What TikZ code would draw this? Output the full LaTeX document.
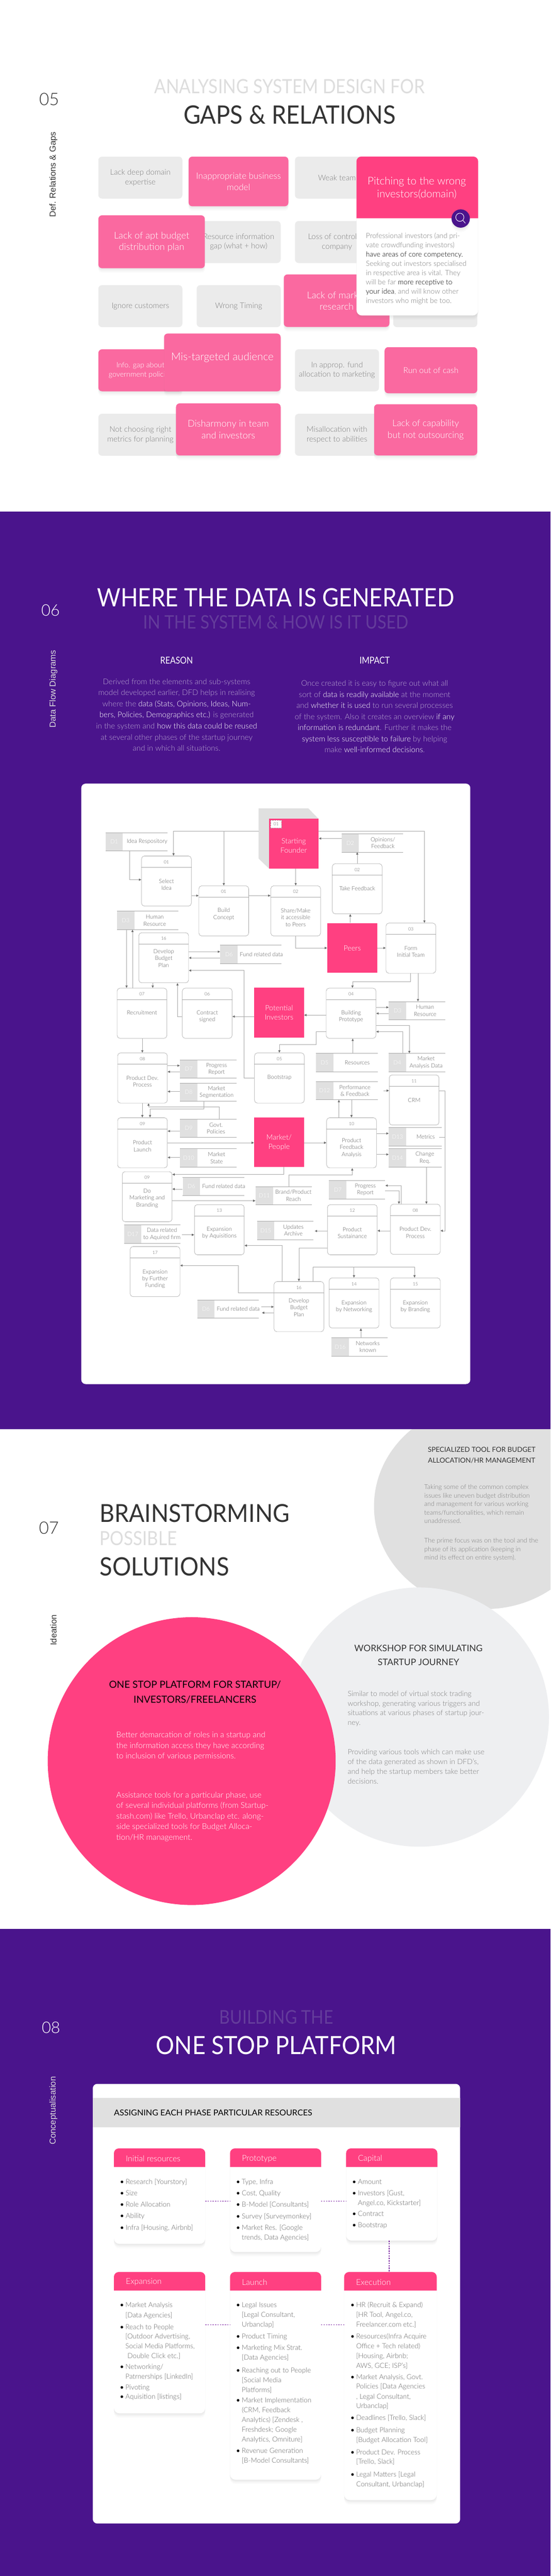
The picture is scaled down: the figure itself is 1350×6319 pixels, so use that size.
\documentclass[tikz,border=0pt]{standalone}
\usepackage{fontspec}
\usepackage{xcolor}
\usepackage{graphicx}
\usetikzlibrary{arrows.meta,calc,shadows}
\setmainfont{Lato}[UprightFont={* Light}]
\newfontfamily\regfont{Lato}
\newfontfamily\sidefont{Liberation Sans}

\definecolor{purpleband}{HTML}{4A148C}
\definecolor{hotpink}{HTML}{FF4081}
\definecolor{softpink}{HTML}{FA69A0}
\definecolor{tilegray}{HTML}{EBEBEB}
\definecolor{tiletext}{HTML}{7E7E7E}
\definecolor{palehead}{HTML}{DDDDDD}
\definecolor{darkhead}{HTML}{333333}
\definecolor{lilachead}{HTML}{643C9B}
\definecolor{lilactext}{HTML}{B9A6D2}
\definecolor{shadegray}{HTML}{E0E0E0}
\definecolor{lightcircle}{HTML}{EEEFF1}
\definecolor{flowgray}{HTML}{A8A8A8}
\definecolor{tipgray}{HTML}{666666}
\definecolor{dfdtext}{HTML}{5E5E5E}
\definecolor{dashpurple}{HTML}{7B1FA2}

\newcommand{\fittext}[3]{\resizebox{#1pt}{#2pt}{#3}}
\newcommand{\bu}{\llap{\textcolor{black}{\regfont\textbullet}\hspace{4pt}}}
\newcommand{\cardlist}[3]{%
	\foreach[count=\n] \yy/\lab in {#3}{
		\node[listline] (#1\n) at (#2,\yy) {\lab};
	}
}

\tikzset{
	softshadow/.style={drop shadow={shadow xshift=0pt,shadow yshift=-11pt,opacity=.03},drop shadow={shadow xshift=0pt,shadow yshift=-8pt,opacity=.04},drop shadow={shadow xshift=0pt,shadow yshift=-5pt,opacity=.05},drop shadow={shadow xshift=0pt,shadow yshift=-2pt,opacity=.05}},
	tile/.style={rectangle,rounded corners=9pt,anchor=north west,inner sep=0pt,align=center},
	secnum/.style={inner sep=0pt,font=\fontsize{42}{42}\selectfont},
	sidelab/.style={inner sep=0pt,rotate=90,font=\sidefont\fontsize{21}{21}\selectfont},
	head/.style={inner sep=0pt},
	procbox/.style={draw=flowgray,line width=.8pt,rectangle,rounded corners=7pt,fill=white,anchor=north west,inner sep=0pt,minimum width=122pt,minimum height=123pt},
	proclab/.style={inner sep=0pt,align=center,text=dfdtext,font=\fontsize{14}{16.8}\selectfont},
	numlab/.style={inner sep=0pt,text=dfdtext,font=\fontsize{11}{11}\selectfont},
	pinkbox/.style={rectangle,fill=hotpink,anchor=north west,inner sep=0pt,minimum width=122pt,text=white,align=center,font=\fontsize{18}{23}\selectfont},
	storebox/.style={rectangle,anchor=north west,inner sep=0pt,minimum height=44.4pt},
	storetab/.style={rectangle,fill=shadegray,anchor=north west,inner sep=0pt,minimum width=42.4pt,minimum height=44.4pt,text=white,font=\fontsize{14}{14}\selectfont},
	storeline/.style={draw=flowgray,line width=.8pt},
	flow/.style={draw=flowgray,line width=.8pt,-{Latex[length=6pt,width=6pt,color=tipgray]}},
	flowplain/.style={draw=flowgray,line width=.8pt},
	bodyleft/.style={inner sep=0pt,anchor=west,align=left},
	cardbox/.style={rectangle,rounded corners=13pt,fill=white,anchor=north west,inner sep=0pt,softshadow},
	cardtitle/.style={inner sep=0pt,anchor=west,text=white,font=\fontsize{20}{20}\selectfont},
	listline/.style={inner sep=0pt,anchor=west,text=tipgray,text height=12pt,text depth=3pt,font=\fontsize{17}{17}\selectfont},
	linkdash/.style={draw=dashpurple,line width=1.5pt,dashed}
}

\begin{document}
\begin{tikzpicture}[x=1pt,y=-1pt]
	\path[use as bounding box] (0,0) rectangle (1350,6319);
	\clip (0,0) rectangle (1350,6319);
	\fill[white] (0,0) rectangle (1350,6319);

	% ---- 05 gaps and relations
	\node[secnum,text=darkhead] (numfive) at (120.5,243) {05};
	\node[sidelab,text=darkhead] (sidefive) at (131,428) {Def. Relations \& Gaps};
	\node[head,text=palehead] (headfivea) at (710,212.5) {\fittext{663}{35}{\regfont ANALYSING SYSTEM DESIGN FOR}};
	\node[head,text=darkhead] (headfiveb) at (710,281.5) {\fittext{520}{45}{\regfont GAPS \& RELATIONS}};

	\foreach \nm/\x/\y/\lab in {
		tdomain/241/384/{Lack deep domain\\expertise},
		tweak/723/384/{Weak team},
		tresinfo/482/542/{Resource information\\gap (what + how)},
		tcontrol/723/542/{Loss of control of\\company},
		tignore/241/699.3/{Ignore customers},
		ttiming/482/699.3/{Wrong Timing},
		tfourth/964/699.3/{},
		tapprop/723/856.7/{In approp. fund\\allocation to marketing},
		tmetrics/241/1014.8/{Not choosing right\\metrics for planning},
		tmisalloc/723/1014.8/{Misallocation with\\respect to abilities}}{
		\node[tile,fill=tilegray,text=tiletext,minimum width=206pt,minimum height=103pt,font=\fontsize{19}{23}\selectfont] (\nm) at (\x,\y) {\lab};
	}
	\foreach \nm/\x/\y/\w/\h/\fs/\ls/\lab in {
		tbizmodel/462.3/384/244.6/121.8/21.5/28/{Inappropriate business\\model},
		tbudget/241/528/261/129.8/23/28/{Lack of apt budget\\distribution plan},
		tmarket/695.7/673/259/128.8/23/28/{Lack of market\\research},
		tinfogap/241/856.7/206/103/18/23/{Info. gap about\\government policies},
		tmisaud/402/818/286/141.8/26/28/{Mis-targeted audience\\\phantom{x}},
		tcash/942.8/851.3/227.2/113.2/20/28/{Run out of cash},
		tdisharm/431.3/989.3/256.7/127.7/23/28/{Disharmony in team\\and investors},
		tcapab/917/991.3/253/125.7/22/28/{Lack of capability\\but not outsourcing}}{
		\node[tile,fill=softpink,text=white,softshadow,minimum width=\w pt,minimum height=\h pt,font=\fontsize{\fs}{\ls}\selectfont] (\nm) at (\x,\y) {\lab};
	}

	% pitching card on top of the tiles
	\node[cardbox,minimum width=298pt,minimum height=389.7pt] (pitch) at (874,384) {};
	\fill[hotpink] (pitch.west |- 0,535.3) [rounded corners=12pt] -- (pitch.north west) -- (pitch.north east) [sharp corners] -- (pitch.east |- 0,535.3) -- cycle;
	\node[inner sep=0pt,align=center,text=white,font=\fontsize{26}{31}\selectfont] (pitchtitle) at (1022,461) {Pitching to the wrong\\investors(domain)};
	\node[bodyleft,text=tiletext,font=\fontsize{17.5}{22.8}\selectfont] (pitchbody) at (897,659) {Professional investors (and pri-\\vate crowdfunding investors)\\\textcolor{black}{have areas of core competency.}\\Seeking out investors specialised\\in respective area is vital. They\\will be far \textcolor{black}{more receptive to}\\\textcolor{black}{your idea}, and will know other\\investors who might be too.};
	\node[circle,fill=purpleband,minimum size=45pt,inner sep=0pt,softshadow] (magnify) at (1129.6,536) {};
	\node[circle,draw=white,line width=1.2pt,minimum size=20pt,inner sep=0pt] (lens) at (1127.5,533) {};
	\draw[white,line width=1.2pt] (lens.south east) -- ++(6,7);

	% ---- shapes of 07 come before the purple band that cuts them
	\fill[shadegray] (1190,3695) ellipse [x radius=273pt,y radius=252pt];

	% ---- 06 data flow
	\fill[purpleband] (0,1255) rectangle (1350,3506);
	\node[secnum,text=white,font=\fontsize{39}{39}\selectfont] (numsix) at (124,1497.5) {06};
	\node[sidelab,text=palehead] (sidesix) at (131,1690) {Data Flow Diagrams};
	\node[head,text=white] (headsixa) at (676,1465.5) {\fittext{875.6}{45}{\regfont WHERE THE DATA IS GENERATED}};
	\node[head,text=lilachead] (headsixb) at (676,1526.5) {\fittext{650}{33}{\regfont IN THE SYSTEM \& HOW IS IT USED}};
	\node[head,text=white] (reasonhead) at (433,1620) {\fittext{80}{17}{\regfont REASON}};
	\node[head,text=white] (impacthead) at (918.6,1620) {\fittext{74}{17}{\regfont IMPACT}};
	\node[inner sep=0pt,align=center,text=lilactext,font=\fontsize{19}{27.2}\selectfont] (reasonbody) at (433,1753.6) {Derived from the elements and sub-systems\\model developed earlier, DFD helps in realising\\where the \textcolor{white}{data (Stats, Opinions, Ideas, Num-}\\\textcolor{white}{bers, Policies, Demographics etc.)} is generated\\in the system and \textcolor{white}{how this data could be reused}\\at several other phases of the startup journey\\and in which all situations.};
	\node[inner sep=0pt,align=center,text=lilactext,font=\fontsize{19}{27.2}\selectfont] (impactbody) at (918.6,1757.6) {Once created it is easy to figure out what all\\sort of \textcolor{white}{data is readily available} at the moment\\and \textcolor{white}{whether it is used} to run several processes\\of the system. Also it creates an overview \textcolor{white}{if any}\\\textcolor{white}{information is redundant}. Further it makes the\\\textcolor{white}{system less susceptible to failure} by helping\\make \textcolor{white}{well-informed decisions}.};

	\node[rectangle,fill=white,rounded corners=11pt,anchor=north west,inner sep=0pt,minimum width=954pt,minimum height=1473pt] (dfdsheet) at (199,1922) {};

	% starting founder back face
	\fill[shadegray] (634,1983) -- (756,1983) -- (780.6,2008) -- (780.6,2130) -- (659,2130) -- (634,2106) -- cycle;

	\foreach \nm/\x/\y/\h/\lab in {
		founder/659/2008/122/{\\Starting\\Founder},
		peers/802.4/2264/122.4/{Peers},
		investors/623/2422.5/122.5/{Potential\\Investors},
		people/623/2741.4/121.1/{{Market/}\\People}}{
		\node[pinkbox,minimum height=\h pt] (\nm) at (\x,\y) {\lab};
	}
	\node[rectangle,draw=flowgray,dashed,fill=white,inner sep=0pt,minimum width=26.7pt,minimum height=19.4pt,text=dfdtext,font=\fontsize{11}{11}\selectfont] (foundernum) at (677,2021.7) {01};

	% processes: name / left / top / number / label height / label
	\foreach \nm/\x/\y/\num/\ly/\lab in {
		selidea/346.7/2099.3/01/71/{Select\\Idea},
		bldconcept/487.3/2172.5/01/70/{Build\\Concept},
		shareit/663.6/2172.5/02/78/{{Share/Make}\\it accessible\\to Peers},
		takefb/814.5/2118.2/02/61/{Take Feedback},
		forminit/946/2264/03/70/{Form\\Initial Team},
		devbudget/340/2287.5/16/63/{Develop\\Budget\\Plan},
		recruit/286.7/2423.6/07/61/{Recruitment},
		contract/446.7/2423.6/06/70/{Contract\\signed},
		buildproto/799.4/2423.6/04/70/{Building\\Prototype},
		proddev/287.9/2582.5/08/70/{Product Dev.\\Process},
		bootstrap/623.6/2582.5/05/61/{Bootstrap},
		crm/954/2636.4/11/63/{CRM},
		prodlaunch/287.9/2741.4/09/70/{Product\\Launch},
		fbanalysis/800.6/2741.4/10/74/{Product\\Feedback\\Analysis},
		domarket/299.4/2873.6/09/66/{Do\\Marketing and\\Branding},
		expacq/476.4/2954.6/13/70/{Expansion\\by Aquisitions},
		sustain/802.4/2954.6/12/70/{Product\\Sustainance},
		proddevb/957/2953.6/08/70/{Product Dev.\\Process},
		expfund/318.8/3057.3/17/80/{Expansion\\by Further\\Funding},
		devbudgetb/671.5/3143.3/16/64/{Develop\\Budget\\Plan},
		expnet/806.7/3134.3/14/71/{Expansion\\by Networking},
		expbrand/957/3134.3/15/71/{Expansion\\by Branding}}{
		\node[procbox] (\nm) at (\x,\y) {};
		\draw[flowplain] ($(\nm.north west)+(0,28)$) -- ($(\nm.north east)+(0,28)$);
		\node[numlab] (\nm num) at ($(\nm.north)+(0,15)$) {\num};
		\node[proclab] (\nm lab) at ($(\nm.north)+(0,\ly)$) {\lab};
	}

	% data stores: name / left / top / width / id / label x / label
	\foreach \nm/\x/\y/\w/\id/\lx/\lab in {
		idearepo/258.8/2042.5/150.9/D1/360.6/{Idea Respository},
		opinions/837.6/2045.4/150.3/D2/938.8/{{Opinions/}\\Feedback},
		humanres/286.7/2235.4/149.7/D3/379.4/{Human\\Resource},
		funddata/540/2318.6/149.7/D6/641/{Fund related data},
		humanresb/953.3/2456.8/137.7/D3/1042.4/{Human\\Resource},
		resources/774.5/2584/151/D5/876/{Resources},
		mktdata/952.7/2584/138.3/D4/1044.8/{Market\\Analysis Data},
		progress/441.2/2599.6/138.2/D7/531/{Progress\\Report},
		mktseg/441.2/2656.8/138.2/D8/531/{Market\\Segmentation},
		perf/774.5/2652.9/151/D12/870.3/{Performance\\\& Feedback},
		govt/441.2/2745/138.2/D9/529.7/{Govt.\\Policies},
		mktstate/441.2/2817.9/138.2/D10/531/{Market\\State},
		metrics/953.3/2766/129.1/D13/1043.6/{Metrics},
		changereq/953.3/2817.9/129.1/D14/1041.8/{Change\\Req.},
		funddatab/447.9/2887.9/150.9/D6/548.5/{Fund related data},
		brandreach/626.7/2910.4/137.5/D11/719.4/{{Brand/Product}\\Reach},
		progressb/806.7/2896/137.5/D7/895.8/{Progress\\Report},
		updates/630.3/2995.7/137.6/D15/719.4/{Updates\\Archive},
		acquired/304.2/3005/137.6/D17/397/{Data related\\to Aquired firm},
		funddatac/483.6/3188.3/150.3/D6/584.2/{Fund related data},
		networks/812.7/3281.3/137.6/D16/901.8/{Networks\\known}}{
		\node[storebox,minimum width=\w pt] (\nm) at (\x,\y) {};
		\node[storetab] (\nm tab) at (\nm.north west) {\id};
		\draw[storeline] (\nm.north west) -- (\nm.north east);
		\draw[storeline] (\nm.south west) -- (\nm.south east);
		\node[proclab] (\nm lab) at (\lx,0 |- \nm.center) {\lab};
	}

	% connectors of the upper part
	\coordinate (foundback) at (634,2039.3);
	\draw[flow] (foundback) -| (425.5,0 |- selidea.north);
	\draw[flow] (bldconcept.north |- foundback) -- (bldconcept.north);
	\draw[flow] (founder.east |- foundback) -| (1040.6,0 |- forminit.north);
	\draw[flow] (opinions.west |- 0,2056.8) -- (founder.east |- 0,2056.8);
	\draw[flow] (takefb.north) -- (takefb.north |- opinions.south);
	\draw[flow] (858.8,0 |- peers.north) -- (858.8,0 |- takefb.south);
	\draw[flow] (shareit.north |- founder.south) -- (shareit.north);
	\draw[flow] (318.2,0 |- idearepo.south) |- (selidea.west |- 0,2157.9);
	\draw[flow] (selidea.east |- 0,2197) -- (bldconcept.west |- 0,2197);
	\draw[flow] (bldconcept.east |- 0,2197) -- (shareit.west |- 0,2197);
	\draw[flow] (shareit.south) |- (peers.west |- 0,2325.4);
	\draw[flow] (peers.east |- 0,2325.4) -- (forminit.west |- 0,2325.4);
	\draw[flow] (1006.7,0 |- forminit.south) -- (1006.7,2408.2) -| (864.2,0 |- buildproto.north);
	\draw[flow] (1024.8,0 |- forminit.south) -- (1024.8,0 |- humanresb.north);
	\draw[flow] (devbudget.east |- 0,2334.6) -- (funddata.west |- 0,2334.6);
	\draw[flow] (funddata.west |- 0,2349.6) -- (devbudget.east |- 0,2349.6);
	\draw[flow] (bootstrap.west |- 0,2644) -- (597.6,2644) |- (devbudget.east |- 0,2380.7);
	\draw[flow] (374.5,0 |- devbudget.south) -- (374.5,0 |- recruit.north);
	\draw[flow] (contract.west |- 0,2493.6) -| (435.2,0 |- devbudget.south);
	\draw[flow] (310.3,0 |- humanres.south) -- (310.3,0 |- recruit.north);
	\draw[flow] (324.8,0 |- recruit.north) -- (324.8,0 |- humanres.south);
	\draw[flow] (investors.west |- 0,2493.6) -- (contract.east |- 0,2493.6);
	\draw[flow] (buildproto.west |- 0,2490) -- (investors.east |- 0,2490);
	\draw[flow] (buildproto.east |- 0,2471) -- (humanresb.west |- 0,2471);
	\draw[flow] (humanresb.west |- 0,2486) -- (buildproto.east |- 0,2486);
	\draw[flow] (buildproto.east |- 0,2515.7) -| (1003.6,0 |- mktdata.north);
	\draw[flow] (987.9,0 |- mktdata.north) |- (buildproto.east |- 0,2530.7);
	\draw[flow] (buildproto.west |- 0,2530.7) -- (774.5,2530.7) -- (774.5,2562.5) -| (bootstrap.north);
	\draw[flow] (864.8,0 |- resources.north) -- (864.8,0 |- buildproto.south);

	% connectors of the middle part
	\draw[flow] (349,0 |- recruit.south) -- (349,0 |- proddev.north);
	\draw[flow] (proddev.east |- 0,2614) -- (progress.west |- 0,2614);
	\draw[flow] (progress.west |- 0,2629) -- (proddev.east |- 0,2629);
	\draw[flow] (mktseg.west |- 0,2677.5) -- (proddev.east |- 0,2677.5);
	\draw[flow] (349,0 |- proddev.south) -- (349,0 |- prodlaunch.north);
	\draw[flow] (499.4,0 |- mktseg.south) -- (499.4,2720.4) -| (367.9,0 |- prodlaunch.north);
	\draw[flow] (537,0 |- govt.north) -- (537,2715.4) -| (364.2,0 |- proddev.south);
	\draw[flow] (govt.west |- 0,2774.6) -- (prodlaunch.east |- 0,2774.6);
	\draw[flow] (mktstate.west |- 0,2839.3) -- (prodlaunch.east |- 0,2839.3);
	\draw[flow] (prodlaunch.east |- 0,2803.2) -- (people.west |- 0,2803.2);
	\draw[flow] (people.east |- 0,2803.2) -- (fbanalysis.west |- 0,2803.2);
	\draw[flow] (830.9,0 |- fbanalysis.north) -- (830.9,0 |- perf.south);
	\draw[flow] (861.8,0 |- perf.south) -- (861.8,0 |- fbanalysis.north);
	\draw[flow] (940,0 |- perf.center) -- (crm.west |- perf.center);
	\draw[flow] (fbanalysis.east |- 0,2780.4) -- (metrics.west |- 0,2780.4);
	\draw[flow] (fbanalysis.east |- 0,2831.8) -- (changereq.west |- 0,2831.8);
	\draw[flow] (crm.east |- perf.center) -- (1091.5,0 |- perf.center) |- (proddevb.east |- 0,3019);
	\draw[flowplain] (1077,2789.3) -- (1091.5,2789.3);
	\draw[flow] (1045.5,0 |- changereq.south) -- (1045.5,0 |- proddevb.north);
	\draw[flow] (695.8,0 |- people.south) |- (domarket.east |- 0,2881);
	\draw[flow] (funddatab.west |- 0,2916.8) -- (domarket.east |- 0,2916.8);
	\draw[flow] (domarket.east |- 0,2945.4) -- (brandreach.west |- 0,2945.4);
	\draw[flow] (707.9,0 |- brandreach.north) -- (707.9,2881.4) -| (863.6,0 |- fbanalysis.south);
	\draw[flow] (984.2,0 |- proddevb.north) |- (progressb.east |- 0,2908.2);
	\draw[flow] (progressb.east |- 0,2921.4) -| (978.2,0 |- proddevb.north);

	% connectors of the lower part
	\draw[flow] (proddevb.west |- 0,3019) -- (sustain.east |- 0,3019);
	\draw[flow] (sustain.west |- 0,3019.7) -- (771.5,3019.7);
	\draw[flow] (445.5,3029) -- (expacq.west |- 0,3029);
	\draw[flow] (691.5,0 |- devbudgetb.north) |- (expacq.east |- 0,3055.3);
	\draw[flow] (sustain.west |- 0,3061.3) -| (devbudgetb.north);
	\draw[flow] (767.9,0 |- devbudgetb.north) -- (767.9,3108.3) -| (1016.4,0 |- expbrand.north);
	\draw[flow] (867.9,3108.3) -- (867.9,0 |- expnet.north);
	\draw[flow] (devbudgetb.west |- 0,3171.7) -- (584.8,3171.7) |- (expfund.east |- 0,3104.3);
	\draw[flow] (640.6,3205.7) -- (devbudgetb.west |- 0,3205.7);
	\draw[flow] (devbudgetb.west |- 0,3220.3) -- (641.8,3220.3);
	\draw[flow] (884.8,0 |- networks.north) -- (884.8,0 |- expnet.south);

	% ---- 07 brainstorming
	\fill[lightcircle] (1028,4212) ellipse [x radius=318pt,y radius=318pt];
	\node[circle,fill=hotpink,minimum size=706pt,inner sep=0pt] (onestop) at (470,4320) {};
	\node[secnum,text=darkhead] (numseven) at (120,3748.6) {07};
	\node[sidelab,text=darkhead] (sideseven) at (131,3998.7) {Ideation};
	\node[head,anchor=west,text=darkhead] (headseva) at (244.5,3712.7) {\fittext{465}{44}{\regfont BRAINSTORMING}};
	\node[head,anchor=west,text=palehead] (headsevb) at (244.5,3773.8) {\fittext{189.5}{34.5}{\regfont POSSIBLE}};
	\node[head,anchor=west,text=darkhead] (headsevc) at (244.5,3843.6) {\fittext{317}{45}{\regfont SOLUTIONS}};

	\node[inner sep=0pt,align=center,text=darkhead,font=\regfont\fontsize{17}{27}\selectfont] (tooltitle) at (1181,3569.3) {SPECIALIZED TOOL FOR BUDGET\\ALLOCATION/HR MANAGEMENT};
	\node[bodyleft,text=tiletext,font=\fontsize{16}{21}\selectfont] (toolbodya) at (1040,3689.2) {Taking some of the common complex\\issues like uneven budget distribution\\and management for various working\\teams/functionalities, which remain\\unaddressed.};
	\node[bodyleft,text=tiletext,font=\fontsize{16}{21}\selectfont] (toolbodyb) at (1040,3801.2) {The prime focus was on the tool and the\\phase of its application (keeping in\\mind its effect on entire system).};

	\node[inner sep=0pt,align=center,text=darkhead,font=\regfont\fontsize{22}{33.7}\selectfont] (worktitle) at (1026,4060.2) {WORKSHOP FOR SIMULATING\\STARTUP JOURNEY};
	\node[bodyleft,text=tiletext,font=\fontsize{18}{23.7}\selectfont] (workbodya) at (852.4,4191.4) {Similar to model of virtual stock trading\\workshop, generating various triggers and\\situations at various phases of startup jour-\\ney.};
	\node[bodyleft,text=tiletext,font=\fontsize{18}{23.7}\selectfont] (workbodyb) at (852.4,4333.2) {Providing various tools which can make use\\of the data generated as shown in DFD's,\\and help the startup members take better\\decisions.};

	\node[inner sep=0pt,align=center,text=black,font=\regfont\fontsize{24}{37.4}\selectfont] (stoptitle) at (478,4150.8) {ONE STOP PLATFORM FOR STARTUP/\\INVESTORS/FREELANCERS};
	\node[bodyleft,text=white,font=\fontsize{19.5}{26}\selectfont] (stopbodya) at (285,4283) {Better demarcation of roles in a startup and\\the information access they have according\\to inclusion of various permissions.};
	\node[bodyleft,text=white,font=\fontsize{19.5}{26}\selectfont] (stopbodyb) at (285,4456.4) {Assistance tools for a particular phase, use\\of several individual platforms (from Startup-\\stash.com) like Trello, Urbanclap etc. along-\\side specialized tools for Budget Alloca-\\tion/HR management.};

	% ---- 08 one stop platform
	\fill[purpleband] (0,4732) rectangle (1350,6319);
	\node[secnum,text=white,font=\fontsize{39}{39}\selectfont] (numeight) at (125,4974) {08};
	\node[sidelab,text=palehead] (sideeight) at (131,5177.4) {Conceptualisation};
	\node[head,text=lilachead] (headeighta) at (677.6,4948) {\fittext{279}{33.6}{\regfont BUILDING THE}};
	\node[head,text=white] (headeightb) at (677,5017) {\fittext{588}{44.7}{\regfont ONE STOP PLATFORM}};

	\node[rectangle,fill=white,rounded corners=11pt,anchor=north west,inner sep=0pt,minimum width=900.7pt,minimum height=1078.5pt] (platsheet) at (227.3,5111.5) {};
	\node[rectangle,fill=shadegray,anchor=north west,inner sep=0pt,minimum width=900.7pt,minimum height=71.4pt] (platband) at (227.3,5146.2) {};
	\node[head,anchor=west,text=black] (platbandtext) at (279.3,5182) {\fittext{486}{14.5}{\regfont ASSIGNING EACH PHASE PARTICULAR RESOURCES}};

	\foreach \nm/\x/\y/\w/\h/\yh/\lab in {
		cardinit/279.3/5270/223.6/234/5315.7/{Initial resources},
		cardproto/564/5270/223/254/5315.7/{Prototype},
		cardcap/848.5/5270/223.5/226/5315.7/{Capital},
		cardexp/279.3/5573.2/223.6/346.6/5618.7/{Expansion},
		cardlaunch/564/5573.2/223/509.2/5618.7/{Launch},
		cardexec/843.8/5573.2/226.6/559.2/5618.7/{Execution}}{
		\node[cardbox,minimum width=\w pt,minimum height=\h pt] (\nm) at (\x,\y) {};
		\fill[hotpink] (\nm.west |- 0,\yh) [rounded corners=12pt] -- (\nm.north west) -- (\nm.north east) [sharp corners] -- (\nm.east |- 0,\yh) -- cycle;
		\node[cardtitle] (\nm title) at ($(\nm.north west)+(29,25)$) {\lab};
	}
	\draw[linkdash] (cardinit.east |- 0,5400) -- (cardproto.west |- 0,5400);
	\draw[linkdash] (cardproto.east |- 0,5400) -- (cardcap.west |- 0,5400);
	\draw[linkdash] (954.2,0 |- cardcap.south) -- (954.2,0 |- cardexec.north);
	\draw[linkdash] (cardexp.east |- 0,5703) -- (cardlaunch.west |- 0,5703);
	\draw[linkdash] (cardlaunch.east |- 0,5703) -- (cardexec.west |- 0,5703);

	\cardlist{initl}{308}{5353.3/\bu Research [Yourstory],5381/\bu Size,5409.3/\bu Role Allocation,5437.3/\bu Ability,5466/{\bu Infra [Housing, Airbnb]}}
	\cardlist{protol}{592.7}{5353.3/{\bu Type, Infra},5381/{\bu Cost, Quality},5409.3/\bu B-Model [Consultants],5437.7/\bu Survey [Surveymonkey],5466/\bu Market Res. [Google,5490/{trends, Data Agencies]}}
	\cardlist{capl}{877.3}{5353.3/\bu Amount,5381.7/{\bu Investors [Gust,},5405/{Angel.co, Kickstarter]},5431.7/\bu Contract,5460/\bu Bootstrap}
	\cardlist{expl}{307.5}{5655.8/\bu Market Analysis,5680.2/[Data Agencies],5709.1/\bu Reach to People,5733/{[Outdoor Advertising,},5756.9/{Social Media Platforms,},5780.7/{\hspace{5pt}Double Click etc.]},5806.9/{\bu Networking/},5830.8/Patrnerships [LinkedIn],5857/\bu Pivoting,5880.8/\bu Aquisition [listings]}
	\cardlist{launl}{592.7}{5655.8/\bu Legal Issues,5679.7/{[Legal Consultant,},5703.6/Urbanclap],5732/\bu Product Timing,5760/\bu Marketing Mix Strat.,5784.4/[Data Agencies],5815.6/\bu Reaching out to People,5839.5/[Social Media,5863.4/Platforms],5889.6/\bu Market Implementation,5913.4/{(CRM, Feedback},5937.3/{Analytics) [Zendesk ,},5961.2/{Freshdesk; Google},5985/{Analytics, Omniture]},6013.5/\bu Revenue Generation,6037.4/[B-Model Consultants]}
	\cardlist{execl}{873.2}{5655.8/\bu HR (Recruit \& Expand),5679.7/{[HR Tool, Angel.co,},5703.6/Freelancer.com etc.],5733/\bu Resources(Infra Acquire,5756.9/Office + Tech related),5780.7/{[Housing, Airbnb;},5804.6/{AWS, GCE; ISP's]},5831.7/{\bu Market Analysis, Govt.},5855.6/Policies [Data Agencies,5879.9/{, Legal Consultant,},5903.3/Urbanclap],5932.7/{\bu Deadlines [Trello, Slack]},5962/\bu Budget Planning,5986/[Budget Allocation Tool],6016.3/\bu Product Dev. Process,6040.1/{[Trello, Slack]},6070.9/\bu Legal Matters [Legal,6094.8/{Consultant, Urbanclap]}}

\end{tikzpicture}
\end{document}
